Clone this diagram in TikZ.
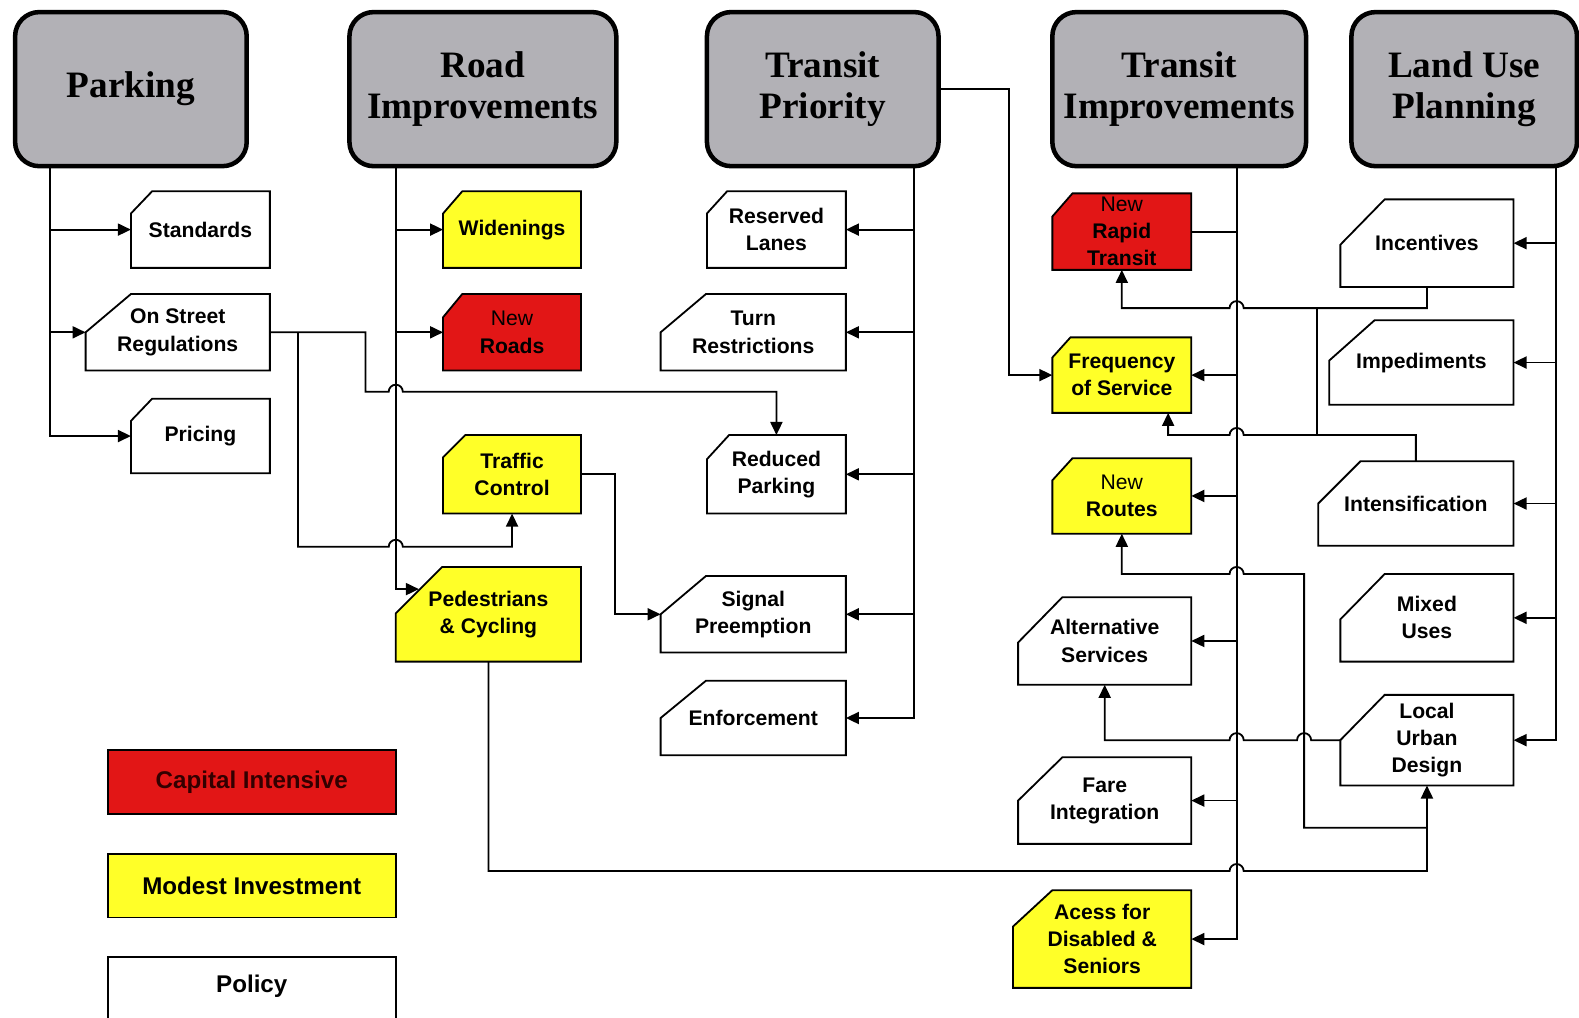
\documentclass[tikz,border=0pt]{standalone}
\usepackage{fontspec}
\setmainfont{Liberation Sans}
\newfontfamily\hdfont{Liberation Serif}
\usetikzlibrary{arrows.meta}
\definecolor{capred}{RGB}{226,22,22}
\definecolor{modyel}{RGB}{255,255,40}
\definecolor{hdgray}{RGB}{178,177,182}
\tikzset{
  hdr/.style={draw=black, line width=4.5pt, fill=hdgray, rounded corners=24pt,
    font=\hdfont\bfseries\fontsize{37}{41}\selectfont, align=center, inner sep=0pt},
  boxline/.style={draw=black, line width=1.8pt},
  btext/.style={font=\bfseries\fontsize{21}{27}\selectfont, align=center, inner sep=0pt, draw=none, outer sep=0pt},
  conn/.style={line width=1.8pt, draw=black},
  arr/.style={conn, -{Triangle[length=13pt,width=12pt]}},
  legbox/.style={draw=black, line width=1.8pt, font=\bfseries\fontsize{24}{28}\selectfont,
    minimum width=286pt, minimum height=63pt, inner sep=0pt},
}
% #1 name, #2 fill, #3 x1, #4 y1, #5 x2, #6 y2, #7 dx, #8 dy, #9 text
\newcommand\cbox[9]{%
  \path[boxline, fill=#2] (#3,#4+#8) -- (#3+#7,#4) -- (#5,#4) -- (#5,#6) -- (#3,#6) -- cycle;
  \node[btext, minimum width=#5-#3, minimum height=#6-#4] (#1) at ({(#3+#5)/2},{(#4+#6)/2}) {#9};
}
\begin{document}
\begin{tikzpicture}[x=1pt, y=-1pt]
\useasboundingbox[fill=white] (0,0) rectangle (1568,1010);

% headers
\node[hdr, minimum width=230pt, minimum height=153pt] (park) at (130,88.5) {Parking};
\node[hdr, minimum width=265pt, minimum height=153pt] (road) at (479.5,88.5) {Road\\Improvements};
\node[hdr, minimum width=230pt, minimum height=153pt] (tp) at (817,88.5) {Transit\\Priority};
\node[hdr, minimum width=252pt, minimum height=153pt] (ti) at (1171,88.5) {Transit\\Improvements};
\node[hdr, minimum width=224pt, minimum height=153pt] (lu) at (1454,88.5) {Land Use\\Planning};

% parking
\cbox{std}{white}{130}{190}{268}{266}{21}{22}{Standards}
\cbox{osr}{white}{85}{292}{268}{368}{45}{38}{On Street\\Regulations}
\cbox{pri}{white}{130}{396}{268}{470}{21}{22}{Pricing}
% road
\cbox{wid}{modyel}{440}{190}{577}{266}{19}{22}{Widenings}
\cbox{nrd}{capred}{440}{292}{577}{368}{19}{23}{{\mdseries New}\\Roads}
\cbox{tc}{modyel}{440}{432}{577}{510}{22}{22}{Traffic\\Control}
\cbox{ped}{modyel}{393}{563}{577}{657}{46}{46}{Pedestrians\\\& Cycling}
% transit priority
\cbox{res}{white}{702}{190}{840}{266}{20}{22}{Reserved\\Lanes}
\cbox{trn}{white}{656}{292}{840}{368}{45}{38}{Turn\\Restrictions}
\cbox{rp}{white}{702}{432}{840}{510}{22}{24}{Reduced\\Parking}
\cbox{sig}{white}{656}{572}{840}{648}{45}{38}{Signal\\Preemption}
\cbox{enf}{white}{656}{676}{840}{750}{45}{37}{Enforcement}
% transit improvements
\cbox{nrt}{capred}{1045}{192}{1183}{268}{20}{23}{{\mdseries New}\\Rapid\\Transit}
\cbox{freq}{modyel}{1045}{335}{1183}{410}{18}{20}{Frequency\\of Service}
\cbox{nr}{modyel}{1045}{455}{1183}{530}{20}{22}{{\mdseries New}\\Routes}
\cbox{alt}{white}{1011}{593}{1183}{680}{44}{45}{Alternative\\Services}
\cbox{fare}{white}{1011}{752}{1183}{838}{44}{43}{Fare\\Integration}
\cbox{acc}{modyel}{1006}{884}{1183}{981}{39}{36}{Acess for\\Disabled \&\\Seniors}
% land use
\cbox{inc}{white}{1331}{198}{1503}{285}{44}{45}{Incentives}
\cbox{imp}{white}{1320}{318}{1503}{402}{45}{40}{Impediments}
\cbox{int}{white}{1309}{458}{1503}{542}{42}{42}{Intensification}
\cbox{mix}{white}{1331}{570}{1503}{657}{44}{45}{Mixed\\Uses}
\cbox{lud}{white}{1331}{690}{1503}{780}{44}{45}{Local\\Urban\\Design}

% legend
\node[legbox, fill=capred, text=black!80!red] (leg1) at (250,776.5) {Capital Intensive};
\node[legbox, fill=modyel] (leg2) at (250,879.5) {Modest Investment};
\draw[line width=1.8pt] (107,1030) -- (107,950) -- (393,950) -- (393,1030);
\node[font=\bfseries\fontsize{24}{28}\selectfont, inner sep=0pt] (leg3) at (250,979) {Policy};

% trunk coordinates
\coordinate (parkx) at (50,0);
\coordinate (roadx) at (393,0);
\coordinate (tpx) at (908,0);
\coordinate (tix) at (1228,0);
\coordinate (lux) at (1545,0);
\coordinate (pedin) at (416,585);
\coordinate (j1) at (296,330);
\coordinate (j2) at (1417,822);

% parking trunk
\draw[arr] (park.south -| parkx) |- (pri.west);
\draw[arr] (std.west -| parkx) -- (std.west);
\draw[arr] (osr.west -| parkx) -- (osr.west);
% road trunk
\draw[arr] (road.south -| roadx) |- (pedin);
\draw[arr] (wid.west -| roadx) -- (wid.west);
\draw[arr] (nrd.west -| roadx) -- (nrd.west);
% transit priority trunk
\draw[arr] (tp.south -| tpx) |- (enf.east);
\draw[arr] (res.east -| tpx) -- (res.east);
\draw[arr] (trn.east -| tpx) -- (trn.east);
\draw[arr] (rp.east -| tpx) -- (rp.east);
\draw[arr] (sig.east -| tpx) -- (sig.east);
% transit improvements trunk
\draw[arr] (ti.south -| tix) |- (acc.east);
\draw[conn] (nrt.east) -- (nrt.east -| tix);
\draw[arr] (freq.east -| tix) -- (freq.east);
\draw[arr] (nr.east -| tix) -- (nr.east);
\draw[arr] (alt.east -| tix) -- (alt.east);
\draw[arr] (fare.east -| tix) -- (fare.east);
% land use trunk
\draw[arr] (lu.south -| lux) |- (lud.east);
\draw[arr] (inc.east -| lux) -- (inc.east);
\draw[arr] (imp.east -| lux) -- (imp.east);
\draw[arr] (int.east -| lux) -- (int.east);
\draw[arr] (mix.east -| lux) -- (mix.east);

% cross connections
\draw[arr] (tp.east) -- ++(68,0) |- (freq.west);
\draw[arr] (tc.east) -- ++(34,0) |- (sig.west);
\draw[arr] (osr.east) -| (363,389) -- (386,389) arc (180:360:7) -| (rp.north);
\draw[arr] (j1) |- (386,543) arc (180:360:7) -| (tc.south);
\draw[arr] (inc.south) |- (1235,306) arc (0:-180:7) -| (nrt.south);
\draw[conn] (1308,306) -- (1308,432);
\draw[arr] (int.north) |- (1235,432) arc (0:-180:7) -| ([xshift=46pt]freq.south);
\draw[arr] (lud.west) -- (1302,735) arc (0:-180:7) -- (1235,735) arc (0:-180:7) -| (alt.south);
\draw[arr] (j2) -| (1295,570) -- (1235,570) arc (0:-180:7) -| (nr.south);
\draw[arr] (ped.south) |- (1221,865) arc (180:360:7) -| (lud.south);
\end{tikzpicture}
\end{document}
